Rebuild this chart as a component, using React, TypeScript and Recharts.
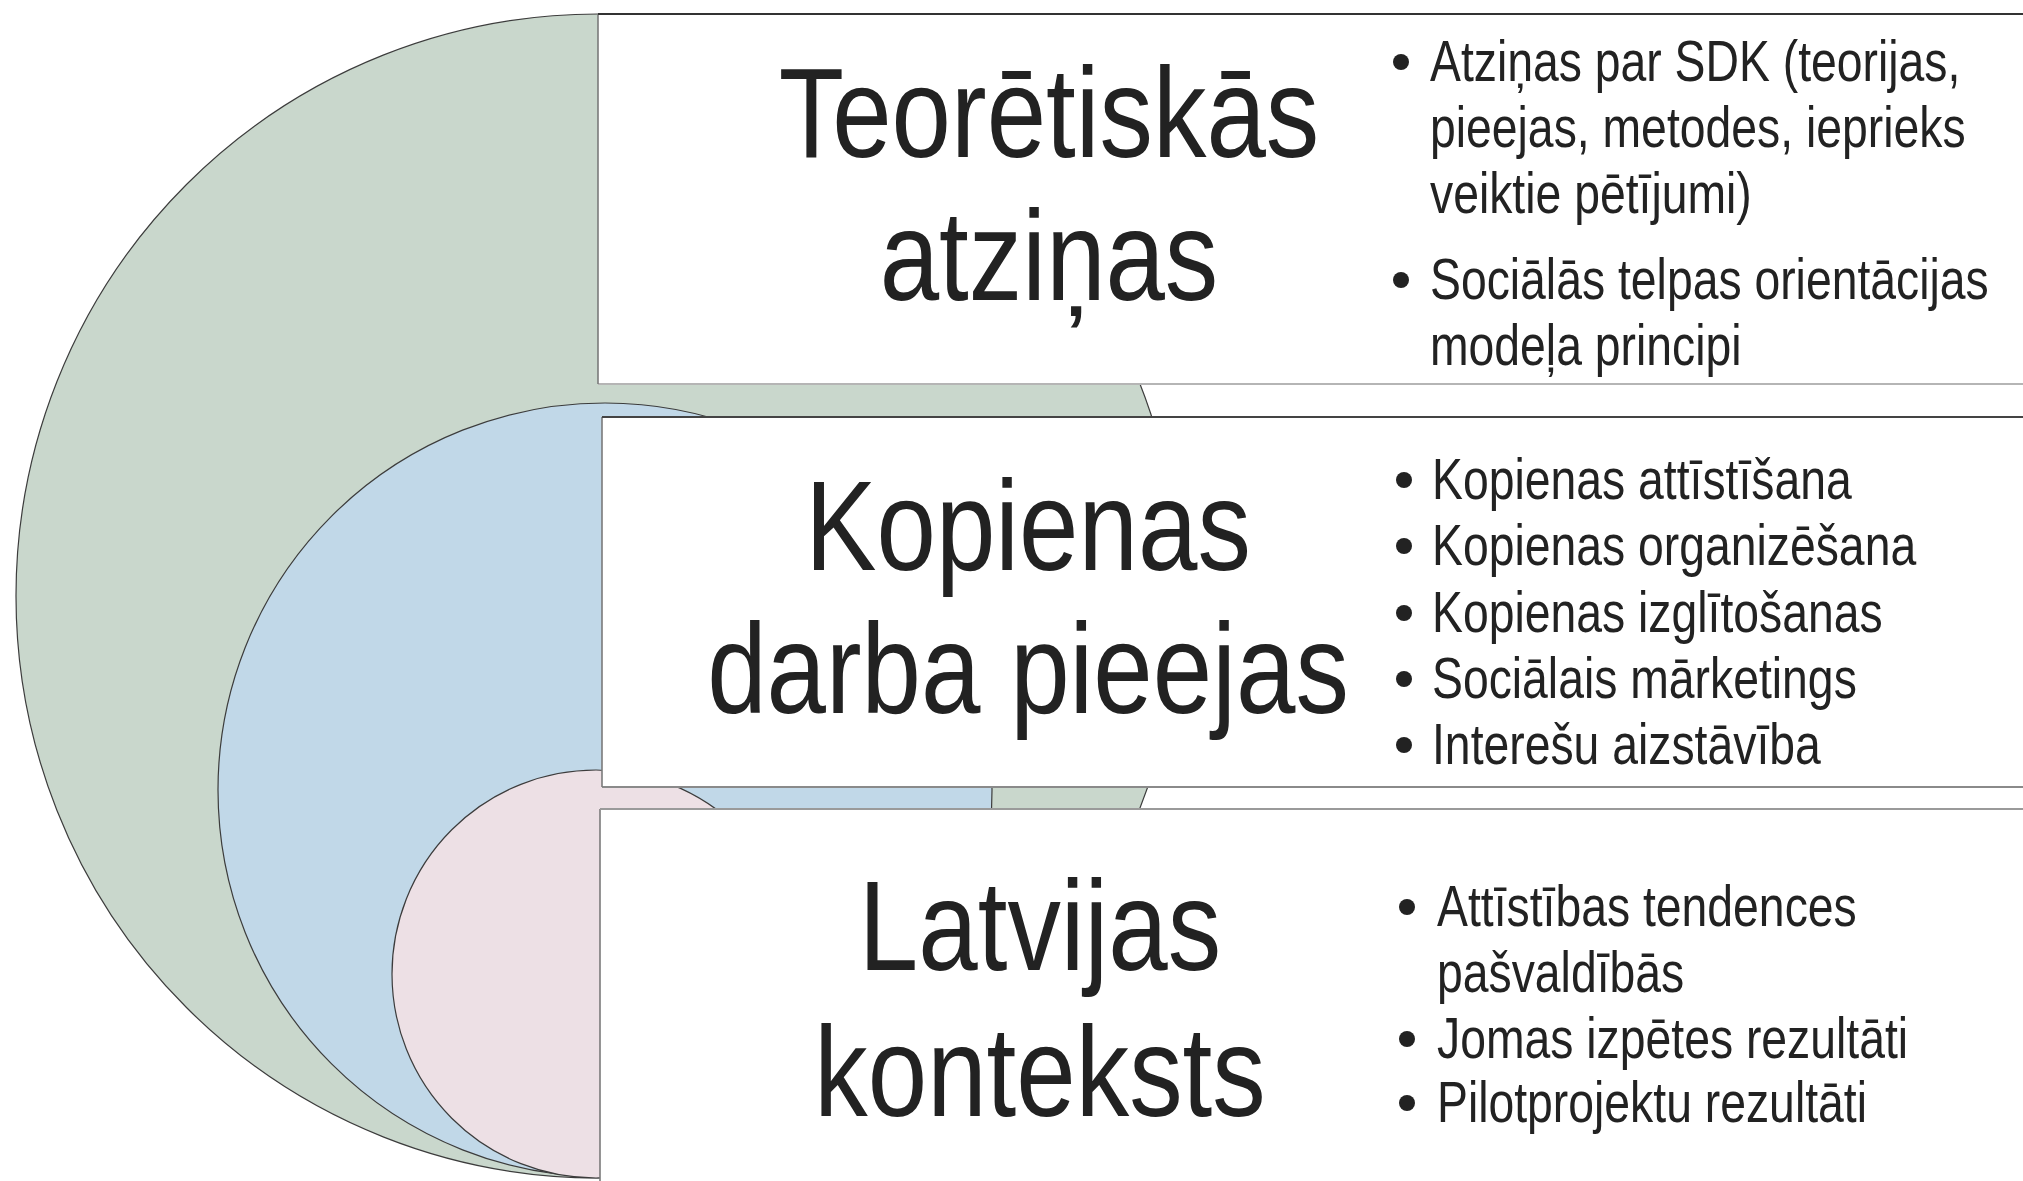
import React from "react";
import { ComposedChart, Scatter, XAxis, YAxis } from "recharts";

// ---- content ----
const categories = ["Teorētiskās atziņas", "Kopienas darba pieejas", "Latvijas konteksts"];
const titleLines: string[][] = [
  ["Teorētiskās", "atziņas"],
  ["Kopienas", "darba pieejas"],
  ["Latvijas", "konteksts"],
];
const bulletsTheory: string[][] = [
  ["Atziņas par SDK (teorijas,", "pieejas, metodes, ieprieks", "veiktie pētījumi)"],
  ["Sociālās telpas orientācijas", "modeļa principi"],
];
const bulletsApproaches: string[][] = [
  ["Kopienas attīstīšana"],
  ["Kopienas organizēšana"],
  ["Kopienas izglītošanas"],
  ["Sociālais mārketings"],
  ["Interešu aizstāvība"],
];
const bulletsContext: string[][] = [
  ["Attīstības tendences", "pašvaldībās"],
  ["Jomas izpētes rezultāti"],
  ["Pilotprojektu rezultāti"],
];
const bulletGroups = [bulletsTheory, bulletsApproaches, bulletsContext];
const circleColors = ["#c9d7cc", "#c1d8e8", "#ede0e5"];

// ---- layout (pixel space of the plot, 1:1) ----
const W = 2023;
const H = 1181;
const circleGeom = [
  { cx: 598, cy: 596, r: 582 },
  { cx: 605, cy: 790, r: 387 },
  { cx: 596, cy: 974, r: 204 },
];
const boxGeom = [
  { x: 598, y1: 14, y2: 384, top: "#333", bottom: "#b5b5b5" },
  { x: 602, y1: 417, y2: 787, top: "#444", bottom: "#8a8a8a" },
  { x: 600, y1: 809, y2: 1190, top: "#9a9a9a", bottom: "#9a9a9a" },
];
const titleX = [1049, 1028, 1040];
const titleBase = [
  [157, 300],
  [570, 713],
  [970, 1116],
];
const bulletDotX = [1401, 1404, 1407];
const bulletTextX = [1430, 1432, 1437];
const bulletFirstBase = [
  [81, 299],
  [499, 565, 632, 698, 764],
  [926, 1058, 1122],
];
const LINE = 66;
const FONT = "'Liberation Sans', Arial, sans-serif";
const TITLE_NARROW = 0.835;
const BULLET_NARROW = 0.82;

// ---- series built from the above ----
const circleData = circleGeom.map((c, i) => [{ x: c.cx, y: c.cy, r: c.r, name: categories[i], fill: circleColors[i] }]);
const boxData = boxGeom.map((b, i) => ({ x: b.x, y: b.y1, y2: b.y2, top: b.top, bottom: b.bottom, name: categories[i] }));
const titleData = titleLines.flatMap((lines, i) =>
  lines.map((t, j) => ({ x: titleX[i], y: titleBase[i][j], text: t }))
);
const bulletTextData = bulletGroups.flatMap((items, i) =>
  items.flatMap((lines, k) =>
    lines.map((t, j) => ({ x: bulletTextX[i], y: bulletFirstBase[i][k] + j * LINE, text: t }))
  )
);
const bulletDotData = bulletGroups.flatMap((items, i) =>
  items.map((_, k) => ({ x: bulletDotX[i], y: bulletFirstBase[i][k] - 19 }))
);

const CircleShape = (p: any) => (
  <circle cx={p.cx} cy={p.cy} r={p.payload.r} fill={p.payload.fill} stroke="#3c3c3c" strokeWidth={1.2} />
);

const BoxShape = (p: any) => {
  const x = p.cx;
  const y = p.cy;
  const h = p.payload.y2 - p.payload.y;
  const w = W + 20 - x;
  return (
    <g>
      <rect x={x} y={y} width={w} height={h} fill="#ffffff" />
      <line x1={x} y1={y + h} x2={x + w} y2={y + h} stroke={p.payload.bottom} strokeWidth={2} />
      <line x1={x} y1={y} x2={x} y2={y + h} stroke="#7a7a7a" strokeWidth={1.6} />
      <line x1={x} y1={y} x2={x + w} y2={y} stroke={p.payload.top} strokeWidth={2} />
    </g>
  );
};

const TitleShape = (p: any) => (
  <text
    transform={`translate(${p.cx},${p.cy}) scale(${TITLE_NARROW},1)`}
    x={0}
    y={0}
    textAnchor="middle"
    fontFamily={FONT}
    fontSize={128}
    fill="#222"
  >
    {p.payload.text}
  </text>
);

const BulletTextShape = (p: any) => (
  <text
    transform={`translate(${p.cx},${p.cy}) scale(${BULLET_NARROW},1)`}
    x={0}
    y={0}
    textAnchor="start"
    fontFamily={FONT}
    fontSize={56.5}
    fill="#222"
  >
    {p.payload.text}
  </text>
);

const DotShape = (p: any) => <circle cx={p.cx} cy={p.cy} r={8} fill="#222" />;

export default function App() {
  return (
    <div style={{ position: "absolute", left: 0, top: 0, width: W, height: H, background: "#fff" }}>
      <ComposedChart width={W} height={H} margin={{ top: 0, right: 0, bottom: 0, left: 0 }}>
        <XAxis type="number" dataKey="x" domain={[0, W]} hide allowDataOverflow />
        <YAxis type="number" dataKey="y" domain={[0, H]} reversed hide allowDataOverflow />
        {circleData.map((d, i) => (
          <Scatter key={"c" + i} name={categories[i]} data={d} shape={CircleShape} isAnimationActive={false} />
        ))}
        <Scatter name="boxes" data={boxData} shape={BoxShape} isAnimationActive={false} />
        <Scatter name="titles" data={titleData} shape={TitleShape} isAnimationActive={false} />
        <Scatter name="bulletDots" data={bulletDotData} shape={DotShape} isAnimationActive={false} />
        <Scatter name="bulletTexts" data={bulletTextData} shape={BulletTextShape} isAnimationActive={false} />
      </ComposedChart>
    </div>
  );
}
